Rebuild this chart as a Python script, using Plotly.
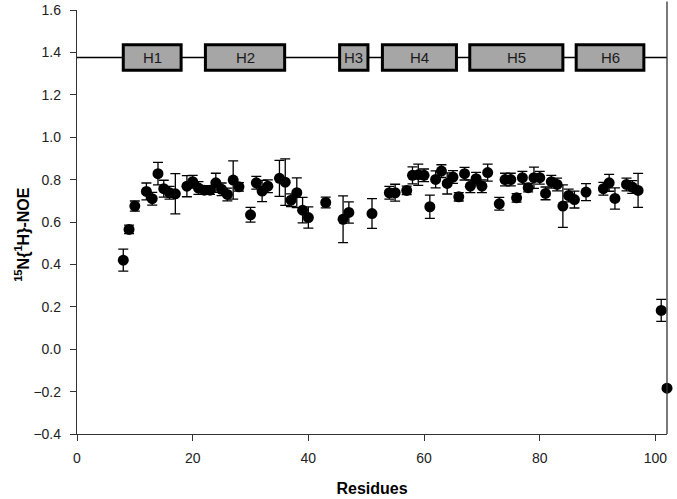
import plotly.graph_objects as go

# residue numbers and heteronuclear NOE values
residues = [8, 9, 10, 12, 13, 14, 15, 16, 17, 19, 20, 21, 22, 23, 24, 25, 26, 27, 28,
            30, 31, 32, 33, 35, 36, 37, 38, 39, 40, 43, 46, 47, 51, 54, 55, 57, 58,
            59, 60, 61, 62, 63, 64, 65, 66, 67, 68, 69, 70, 71, 73, 74, 75, 76, 77,
            78, 79, 80, 81, 82, 83, 84, 85, 86, 88, 91, 92, 93, 95, 96, 97, 101, 102]
noe = [0.42, 0.565, 0.675, 0.744, 0.71, 0.828, 0.757, 0.738, 0.733, 0.769, 0.79,
       0.76, 0.75, 0.75, 0.785, 0.754, 0.73, 0.798, 0.766,
       0.634, 0.785, 0.746, 0.769, 0.806, 0.788, 0.703, 0.738, 0.656, 0.621,
       0.692, 0.613, 0.645, 0.64, 0.738, 0.738, 0.749, 0.82,
       0.823, 0.82, 0.672, 0.801, 0.84, 0.782, 0.812, 0.719, 0.828, 0.769,
       0.804, 0.769, 0.833, 0.686, 0.80, 0.80, 0.714, 0.809,
       0.762, 0.809, 0.809, 0.735, 0.79, 0.777, 0.675, 0.725, 0.706, 0.741,
       0.757, 0.785, 0.711, 0.777, 0.765, 0.749, 0.183, -0.184]
noe_err = [0.052, 0.02, 0.024, 0.04, 0.03, 0.053, 0.04, 0.03, 0.095, 0.05, 0.03,
           0.03, 0.02, 0.02, 0.045, 0.03, 0.03, 0.09, 0.02,
           0.035, 0.03, 0.05, 0.03, 0.085, 0.11, 0.03, 0.07, 0.06, 0.05,
           0.025, 0.11, 0.05, 0.07, 0.03, 0.04, 0.02, 0.04,
           0.05, 0.03, 0.055, 0.04, 0.03, 0.05, 0.03, 0.02, 0.03, 0.03,
           0.03, 0.03, 0.04, 0.03, 0.03, 0.03, 0.02, 0.03,
           0.02, 0.05, 0.03, 0.03, 0.03, 0.03, 0.1, 0.03, 0.04, 0.04,
           0.03, 0.04, 0.05, 0.03, 0.03, 0.08, 0.052, 0.01]

# helix boxes along the top
helix_labels = ["H1", "H2", "H3", "H4", "H5", "H6"]
helix_start = [8, 22.2, 45.4, 52.8, 67.9, 86.3]
helix_end = [18, 35.9, 50.3, 65.6, 84, 98]
helix_level = 1.376

fig = go.Figure()

fig.add_trace(go.Scatter(
    x=residues, y=noe, mode="markers", cliponaxis=False,
    marker=dict(color="black", size=11, line=dict(width=0)),
    error_y=dict(type="data", array=noe_err, color="black", thickness=1.3, width=5),
    showlegend=False,
))

# backbone line and helix boxes
fig.add_shape(type="line", xref="x", yref="y", x0=0, x1=102, y0=helix_level, y1=helix_level,
              line=dict(color="black", width=1.3))
for lab, s, e in zip(helix_labels, helix_start, helix_end):
    fig.add_shape(type="rect", xref="x", yref="y", x0=s, x1=e, y0=1.316, y1=1.436,
                  fillcolor="#a6a6a6", line=dict(color="black", width=3))
    fig.add_annotation(x=(s + e) / 2, y=helix_level, text=lab, showarrow=False,
                       font=dict(family="Liberation Sans, Arial", size=15, color="#1a1a1a"))

# right border line
fig.add_shape(type="line", xref="paper", yref="paper", x0=1, x1=1, y0=0, y1=1.02,
              line=dict(color="#333", width=1.3))

# y axis title as an annotation so it can sit where the original has it
fig.add_annotation(xref="paper", yref="paper", x=-0.093, y=0.47, textangle=-90,
                   text="<b><sup>15</sup>N{<sup>1</sup>H}-NOE</b>", showarrow=False,
                   xanchor="center", yanchor="middle",
                   font=dict(size=16, family="Liberation Sans, Arial", color="black"))

fig.update_xaxes(
    range=[0, 102], tickvals=[0, 20, 40, 60, 80, 100], automargin=False,
    showline=True, linecolor="#333", linewidth=1.3, mirror=False,
    ticks="outside", ticklen=6, tickcolor="#333", showgrid=False, zeroline=False,
    ticklabelstandoff=5,
    title=dict(text="<b>Residues</b>", font=dict(size=16, family="Liberation Sans, Arial", color="black"),
               standoff=17),
    tickfont=dict(size=14, family="Liberation Sans, Arial", color="#222"),
)
fig.update_yaxes(
    range=[-0.4, 1.6], dtick=0.2, tickformat=".1f", automargin=False,
    showline=True, linecolor="#333", linewidth=1.3, mirror=False,
    ticks="outside", ticklen=6, tickcolor="#333", showgrid=False, zeroline=False,
    ticklabelstandoff=6,
    tickfont=dict(size=14, family="Liberation Sans, Arial", color="#222"),
)

fig.update_layout(
    width=677, height=499,
    margin=dict(l=77, r=10, t=10, b=65),
    plot_bgcolor="white", paper_bgcolor="white",
)

# drop the default page margin so the figure sits at the window's corner
fig.write_html("out.html", config={"displayModeBar": False},
               post_script="document.body.style.margin='0';")
